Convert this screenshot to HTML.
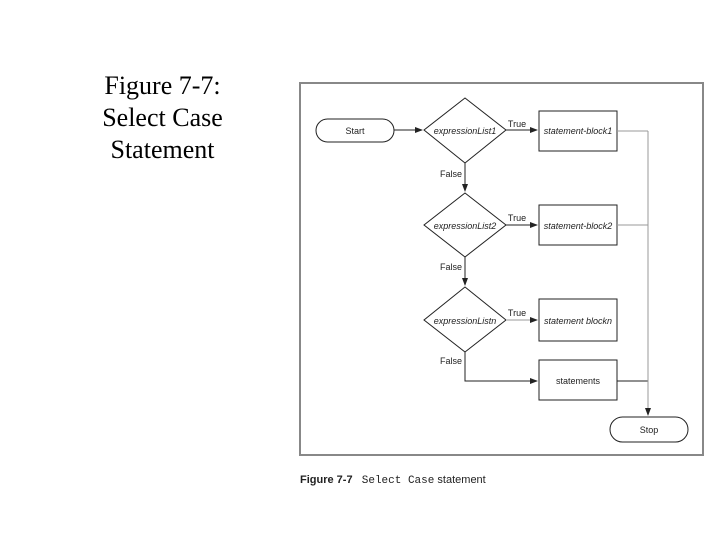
<!DOCTYPE html>
<html><head><meta charset="utf-8"><style>
body{margin:0;width:720px;height:540px;background:#fff;position:relative;overflow:hidden}
.t{position:absolute;left:40px;width:245px;text-align:center;font-family:"Liberation Serif",serif;font-size:26px;line-height:32px;top:70px;color:#000}
</style></head><body>
<div class="t">Figure 7-7:<br>Select Case<br>Statement</div>
<svg width="720" height="540" style="position:absolute;left:0;top:0" font-family="Liberation Sans, sans-serif">
<defs><marker id="a" markerWidth="8" markerHeight="6" refX="7" refY="3" orient="auto"><path d="M0,0L8,3L0,6z" fill="#222"/></marker></defs>
<rect x="300" y="83" width="403" height="372" fill="none" stroke="#888" stroke-width="2"/>
<g stroke="#222" stroke-width="1" fill="none">
<rect x="316" y="119" width="78" height="23" rx="11.5"/>
<path d="M465,98L506,130L465,163L424,130z"/>
<rect x="539" y="111" width="78" height="40"/>
<path d="M465,193L506,225L465,257L424,225z"/>
<rect x="539" y="205" width="78" height="40"/>
<path d="M465,287L506,320L465,352L424,320z"/>
<rect x="539" y="299" width="78" height="42"/>
<rect x="539" y="360" width="78" height="40"/>
<rect x="610" y="417" width="78" height="25" rx="12.5"/>
<path d="M394,130H422" marker-end="url(#a)"/>
<path d="M506,130H537" marker-end="url(#a)"/>
<path d="M465,163V191" marker-end="url(#a)"/>
<path d="M506,225H537" marker-end="url(#a)"/>
<path d="M465,257V285" marker-end="url(#a)"/>
<path d="M506,320H537" stroke="#999" marker-end="url(#a)"/>
<path d="M465,352V381H537" marker-end="url(#a)"/>
<path d="M617,381H648"/>
<path d="M617,131H648M617,225H648" stroke="#999"/>
<path d="M648,131V415" stroke="#999" marker-end="url(#a)"/>
</g>
<g font-size="9" fill="#222" text-anchor="middle">
<text x="355" y="134">Start</text>
<text x="465" y="134" font-style="italic">expressionList1</text>
<text x="578" y="134" font-style="italic">statement-block1</text>
<text x="465" y="229" font-style="italic">expressionList2</text>
<text x="578" y="229" font-style="italic">statement-block2</text>
<text x="465" y="324" font-style="italic">expressionListn</text>
<text x="578" y="324" font-style="italic">statement blockn</text>
<text x="578" y="384">statements</text>
<text x="649" y="433">Stop</text>
<text x="517" y="127">True</text>
<text x="517" y="221">True</text>
<text x="517" y="316">True</text>
<text x="451" y="177">False</text>
<text x="451" y="270">False</text>
<text x="451" y="364">False</text>
</g>
<text x="300" y="483" font-size="11" fill="#222" xml:space="preserve"><tspan font-weight="bold">Figure 7-7</tspan>   <tspan font-family="Liberation Mono, monospace">Select Case</tspan> statement</text>
</svg>
</body></html>
